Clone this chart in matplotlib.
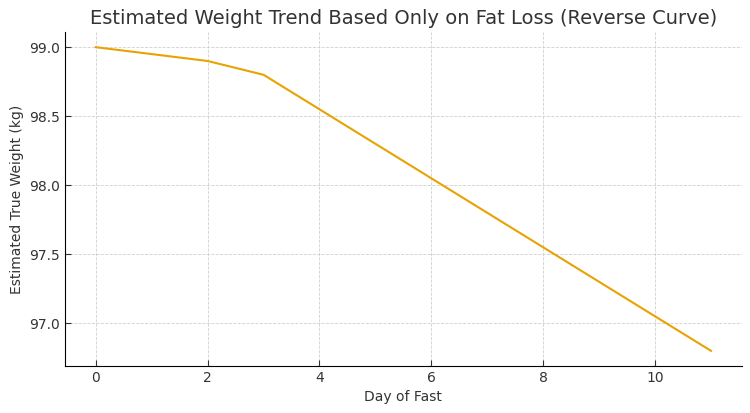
import matplotlib
matplotlib.use("Agg")
import matplotlib.pyplot as plt

# estimated weight per day of fast
days = [0, 1, 2, 3, 4, 5, 6, 7, 8, 9, 10, 11]
weight = [99.0, 98.95, 98.9, 98.8, 98.55, 98.3, 98.05, 97.8, 97.55, 97.3, 97.05, 96.8]

text_col = "#333333"
plt.rcParams["text.color"] = text_col
plt.rcParams["axes.labelcolor"] = text_col
plt.rcParams["xtick.color"] = text_col
plt.rcParams["ytick.color"] = text_col

fig = plt.figure(figsize=(7.5, 4.13), dpi=100)
ax = fig.add_axes([0.0867, 0.1138, 0.9023, 0.8087])
ax.plot(days, weight, color="#E8A202", linewidth=1.5)

ax.set_title("Estimated Weight Trend Based Only on Fat Loss (Reverse Curve)", fontsize=14, pad=6)
ax.set_xlabel("Day of Fast", fontsize=10)
ax.set_ylabel("Estimated True Weight (kg)", fontsize=10)
ax.set_yticks([97.0, 97.5, 98.0, 98.5, 99.0])
ax.tick_params(direction="in", labelsize=10, length=4)

ax.grid(True, linestyle="--", color="#d0d0d0", linewidth=0.6)
ax.spines["top"].set_visible(False)
ax.spines["right"].set_visible(False)

fig.savefig("out.png", dpi=100)
